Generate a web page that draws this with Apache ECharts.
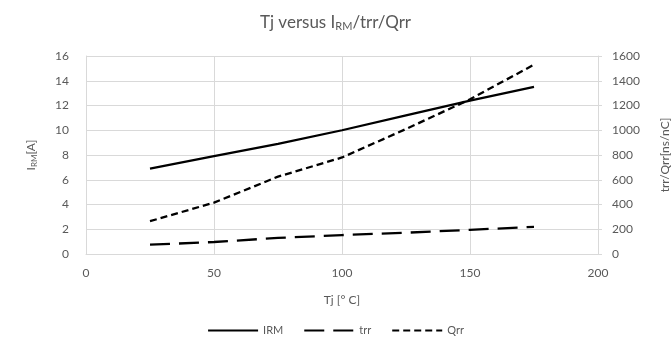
<!DOCTYPE html>
<html><head><meta charset="utf-8">
<script src="https://cdn.jsdelivr.net/npm/echarts@6/dist/echarts.min.js"></script>
<style>html,body{margin:0;padding:0;background:#fff}#c{width:671px;height:359px}</style>
</head><body><div id="c"></div>
<script>
var tj = [25, 50, 75, 100, 125, 150, 175];
var irm = [6.9, 7.9, 8.9, 10.0, 11.2, 12.4, 13.5];
var trr = [75, 97, 130, 153, 172, 195, 220];
var qrr = [265, 415, 625, 780, 1010, 1250, 1530];
var xTicks = [0, 50, 100, 150, 200];
var leftTicks = [0, 2, 4, 6, 8, 10, 12, 14, 16];
var rightTicks = [0, 200, 400, 600, 800, 1000, 1200, 1400, 1600];

function pairs(xs, ys){ return xs.map(function(x,i){ return [x, ys[i]]; }); }
var FONT = 'Lato, "Open Sans", sans-serif';
var TXT = '#595959';
var chart = echarts.init(document.getElementById('c'), null, {renderer:'canvas'});
chart.setOption({
  animation:false,
  backgroundColor:'#fff',
  textStyle:{fontFamily:FONT},
  title:{
    text:'{a|Tj versus I}{s|RM}{a|/trr/Qrr}',
    left:'center', top:8,
    textStyle:{fontWeight:'normal', rich:{
      a:{fontSize:17, color:TXT, fontFamily:FONT, fontWeight:'normal'},
      s:{fontSize:11, color:TXT, fontFamily:FONT, fontWeight:'normal', verticalAlign:'bottom', padding:[8,0,0,0]}
    }}
  },
  legend:{
    bottom:18, left:'center', itemWidth:50, itemHeight:10, itemGap:20,
    itemStyle:{opacity:0, borderWidth:0},
    textStyle:{fontSize:11, color:TXT, fontFamily:FONT},
    data:['IRM','trr','Qrr']
  },
  grid:{left:86, right:73, top:56, bottom:105, containLabel:false, outerBoundsMode:'none'},
  xAxis:{
    type:'value', min:xTicks[0], max:xTicks[xTicks.length-1], interval:50,
    name:'Tj [° C]', nameLocation:'middle', nameGap:40,
    nameTextStyle:{fontSize:12, color:TXT, fontFamily:FONT},
    axisLine:{show:true, lineStyle:{color:'#d9d9d9', width:1}},
    axisTick:{show:false},
    axisLabel:{fontSize:12, color:TXT, margin:13, fontFamily:FONT},
    splitLine:{show:true, lineStyle:{color:'#d9d9d9', width:1}}
  },
  yAxis:[{
    type:'value', min:leftTicks[0], max:leftTicks[leftTicks.length-1], interval:2,
    name:'{a|I}{s|RM}{a|[A]}', nameLocation:'middle', nameGap:48, nameRotate:90,
    nameTextStyle:{rich:{a:{fontSize:12,color:TXT,fontFamily:FONT}, s:{fontSize:8,color:TXT,fontFamily:FONT,padding:[5,0,0,0]}}},
    axisLine:{show:true, lineStyle:{color:'#d9d9d9', width:1}},
    axisTick:{show:false},
    axisLabel:{fontSize:12, color:TXT, margin:17, fontFamily:FONT},
    splitLine:{show:true, lineStyle:{color:'#d9d9d9', width:1}}
  },{
    type:'value', min:rightTicks[0], max:rightTicks[rightTicks.length-1], interval:200,
    name:'trr/Qrr[ns/nC]', nameLocation:'middle', nameGap:61, nameRotate:90,
    nameTextStyle:{fontSize:12, color:TXT, fontFamily:FONT},
    axisLine:{show:true, lineStyle:{color:'#d9d9d9', width:1}},
    axisTick:{show:true, length:4, lineStyle:{color:'#d9d9d9'}},
    axisLabel:{fontSize:12, color:TXT, margin:14, fontFamily:FONT, formatter:function(v){return String(v);}},
    splitLine:{show:false}
  }],
  series:[
    {name:'IRM', type:'line', yAxisIndex:0, symbol:'none', smooth:false,
     data:pairs(tj, irm), lineStyle:{color:'#000', width:2.3, type:'solid'}, itemStyle:{color:'#000'}},
    {name:'trr', type:'line', yAxisIndex:1, symbol:'none',
     data:pairs(tj, trr), lineStyle:{color:'#000', width:2.3, type:[20,9]}, itemStyle:{color:'#000'}},
    {name:'Qrr', type:'line', yAxisIndex:1, symbol:'none',
     data:pairs(tj, qrr), lineStyle:{color:'#000', width:2.3, type:[7,4]}, itemStyle:{color:'#000'}}
  ]
});
</script></body></html>
